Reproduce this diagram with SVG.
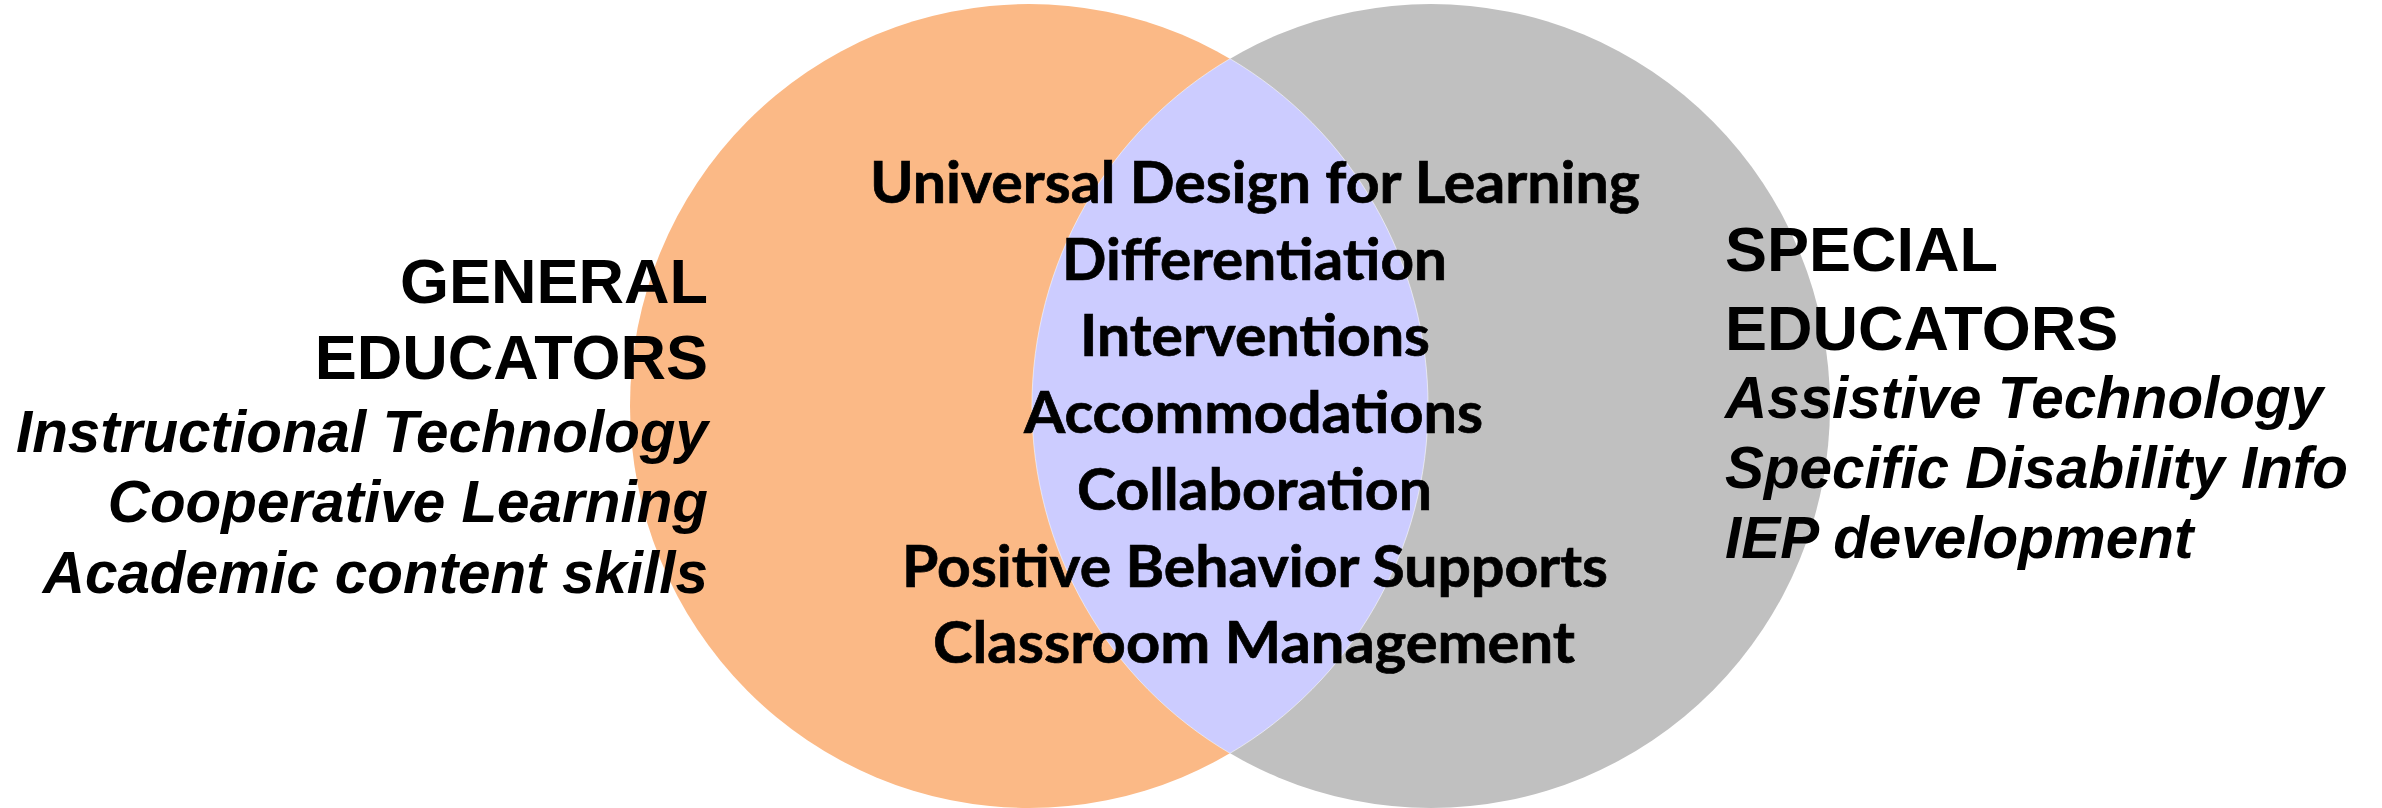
<svg xmlns="http://www.w3.org/2000/svg" width="2382" height="808" viewBox="0 0 2382 808">
  <style>
    .caps { font-family: "Liberation Sans", Arial, sans-serif; font-weight: bold; font-size: 63px; fill: #000; }
    .item { font-family: "Liberation Sans", Arial, sans-serif; font-weight: bold; font-style: italic; font-size: 58.4px; fill: #000; }
    .shared { font-family: Lato, "Open Sans", sans-serif; font-weight: bold; font-size: 58px; fill: #000; stroke: #000; stroke-width: 0.7px; }
  </style>
  <rect width="2382" height="808" fill="#ffffff"/>

  <!-- two overlapping sets and their intersection -->
  <g id="venn">
    <ellipse id="general-set" cx="1029" cy="406" rx="399" ry="402" fill="#FBB986"/>
    <ellipse id="special-set" cx="1431" cy="406" rx="399" ry="402" fill="#C0C0C0"/>
    <path id="overlap" d="M1230,58.7 A399,402 0 0 0 1230,753.3 A399,402 0 0 0 1230,58.7 Z"
          fill="#CCCCFF" stroke="#ffffff" stroke-opacity="0.55" stroke-width="1"/>
  </g>

  <!-- left set labels -->
  <g id="general-educators">
    <text class="caps" x="708" y="303" text-anchor="end">GENERAL</text>
    <text class="caps" x="708" y="379" text-anchor="end">EDUCATORS</text>
    <text class="item" x="708" y="452" text-anchor="end">Instructional Technology</text>
    <text class="item" x="708" y="522" text-anchor="end">Cooperative Learning</text>
    <text class="item" x="708" y="593" text-anchor="end">Academic content skills</text>
  </g>

  <!-- right set labels -->
  <g id="special-educators">
    <text class="caps" x="1725" y="271">SPECIAL</text>
    <text class="caps" x="1725" y="350">EDUCATORS</text>
    <text class="item" x="1725" y="418">Assistive Technology</text>
    <text class="item" x="1725" y="488">Specific Disability Info</text>
    <text class="item" x="1725" y="558">IEP development</text>
  </g>

  <!-- shared practices -->
  <g id="shared-practices">
    <text class="shared" x="870" y="203" textLength="770" lengthAdjust="spacingAndGlyphs">Universal Design for Learning</text>
    <text class="shared" x="1062" y="280" textLength="385" lengthAdjust="spacingAndGlyphs">Differentiation</text>
    <text class="shared" x="1080" y="356" textLength="350" lengthAdjust="spacingAndGlyphs">Interventions</text>
    <text class="shared" x="1024" y="433" textLength="459" lengthAdjust="spacingAndGlyphs">Accommodations</text>
    <text class="shared" x="1077" y="510" textLength="355" lengthAdjust="spacingAndGlyphs">Collaboration</text>
    <text class="shared" x="902" y="587" textLength="706" lengthAdjust="spacingAndGlyphs">Positive Behavior Supports</text>
    <text class="shared" x="933" y="663" textLength="642" lengthAdjust="spacingAndGlyphs">Classroom Management</text>
  </g>
</svg>
